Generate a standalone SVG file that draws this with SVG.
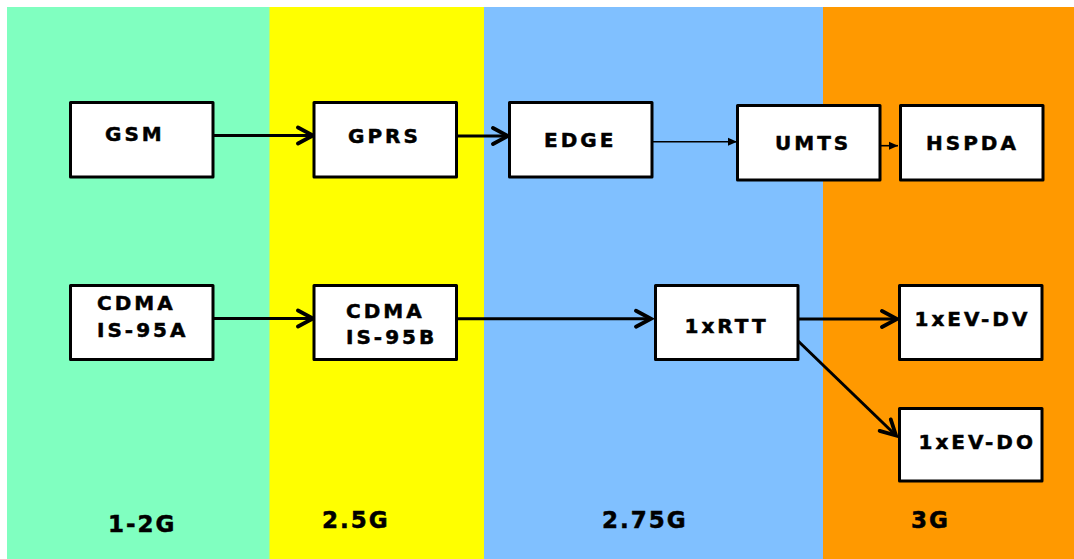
<svg xmlns="http://www.w3.org/2000/svg" width="1074" height="559" viewBox="0 0 1074 559">
<style>
.box{fill:#fff;stroke:#000;stroke-width:3;stroke-linejoin:round}
.t{font-family:"DejaVu Sans",Verdana,sans-serif;font-weight:bold;font-size:20px;letter-spacing:3px;fill:#000;stroke:#000;stroke-width:0.5}
.lbl{font-family:"DejaVu Sans",Verdana,sans-serif;font-weight:bold;font-size:23px;letter-spacing:2px;fill:#000;stroke:#000;stroke-width:0.5}
.thick{stroke:#000;stroke-width:3;fill:none;marker-end:url(#chev)}
.thin{stroke:#000;stroke-width:1.6;fill:none;marker-end:url(#tri)}
</style>
<defs>
<marker id="chev" markerUnits="userSpaceOnUse" viewBox="-20 -12 24 24" markerWidth="24" markerHeight="24" refX="0" refY="0" orient="auto">
<path d="M-15,-8 L0,0 L-15,8" fill="none" stroke="#000" stroke-width="3.8" stroke-linecap="round"/>
</marker>
<marker id="tri" markerUnits="userSpaceOnUse" viewBox="-12 -6 14 12" markerWidth="14" markerHeight="12" refX="0" refY="0" orient="auto">
<path d="M-9,-4 L0,0 L-9,4 Z" fill="#000"/>
</marker>
</defs>
<g id="background">
<rect x="7" y="7" width="263" height="552" fill="#80FFC0"/>
<rect x="269.5" y="7" width="215" height="552" fill="#FFFF00"/>
<rect x="484" y="7" width="339.5" height="552" fill="#80C0FF"/>
<rect x="823" y="7" width="251" height="552" fill="#FF9900"/>
</g>
<g id="connectors">
<line class="thick" x1="210" y1="135.5" x2="313" y2="135.5"/>
<line class="thick" x1="453" y1="136" x2="508" y2="136"/>
<line class="thin" x1="648" y1="141.7" x2="737" y2="141.7"/>
<line class="thin" x1="872" y1="145.7" x2="898" y2="145.7"/>
<line class="thick" x1="210" y1="318.5" x2="313" y2="318.5"/>
<line class="thick" x1="453" y1="318.7" x2="651" y2="318.7"/>
<line class="thick" x1="795.5" y1="319" x2="897" y2="319"/>
<line class="thick" x1="795.5" y1="338.5" x2="896" y2="435.5"/>
</g>
<g id="n-gsm"><rect class="box" x="70.5" y="102.5" width="142.5" height="74.5"/><text class="t" x="105" y="141">GSM</text></g>
<g id="n-gprs"><rect class="box" x="314" y="102.5" width="142.5" height="74.5"/><text class="t" x="348" y="143">GPRS</text></g>
<g id="n-edge"><rect class="box" x="509.5" y="102.5" width="142.5" height="74.5"/><text class="t" x="544" y="147">EDGE</text></g>
<g id="n-umts"><rect class="box" x="737.5" y="105.5" width="142.5" height="74.5"/><text class="t" x="775" y="150">UMTS</text></g>
<g id="n-hspda"><rect class="box" x="900.5" y="105.5" width="142.5" height="74.5"/><text class="t" x="926" y="150">HSPDA</text></g>
<g id="n-is95a"><rect class="box" x="70.5" y="285.5" width="142.5" height="74"/><text class="t" x="97" y="310">CDMA</text><text class="t" x="97" y="336.5">IS-95A</text></g>
<g id="n-is95b"><rect class="box" x="314" y="285.5" width="142.5" height="74"/><text class="t" x="346" y="318">CDMA</text><text class="t" x="346" y="344">IS-95B</text></g>
<g id="n-1xrtt"><rect class="box" x="655.5" y="285.5" width="142.5" height="74"/><text class="t" x="684.5" y="332.5">1xRTT</text></g>
<g id="n-1xevdv"><rect class="box" x="899.5" y="285.5" width="142.5" height="74"/><text class="t" x="914.5" y="325.5">1xEV-DV</text></g>
<g id="n-1xevdo"><rect class="box" x="899.5" y="408.5" width="142.5" height="72.5"/><text class="t" x="918.5" y="449">1xEV-DO</text></g>
<g id="labels">
<text class="lbl" x="108" y="532">1-2G</text>
<text class="lbl" x="322" y="528">2.5G</text>
<text class="lbl" x="602" y="528">2.75G</text>
<text class="lbl" x="911" y="528">3G</text>
</g>
</svg>
